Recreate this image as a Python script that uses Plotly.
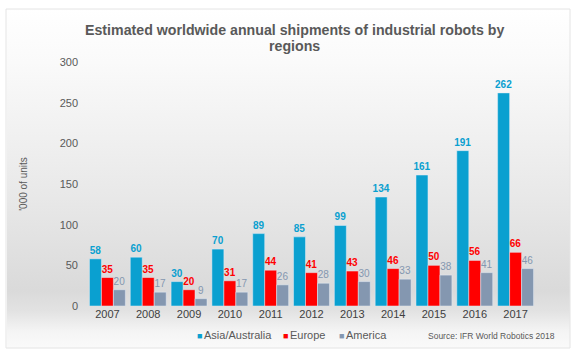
import base64
import plotly.graph_objects as go

years = ["2007", "2008", "2009", "2010", "2011", "2012", "2013", "2014", "2015", "2016", "2017"]
asia = [58, 60, 30, 70, 89, 85, 99, 134, 161, 191, 262]
europe = [35, 35, 20, 31, 44, 41, 43, 46, 50, 56, 66]
america = [20, 17, 9, 17, 26, 28, 30, 33, 38, 41, 46]
yticks = [0, 50, 100, 150, 200, 250, 300]
series_names = ["Asia/Australia", "Europe", "America"]

c_asia = "#0AA0D0"
c_eu = "#FF0000"
c_am = "#8497B0"
colors = [c_asia, c_eu, c_am]

# plot area in pixels: x 87..536, y 62..306
PW, PH = 449, 244
def px(x):
    return (x - 87) / PW
def py(y):
    return (306 - y) / PH

svg = (
    '<svg xmlns="http://www.w3.org/2000/svg" width="100" height="100" preserveAspectRatio="none">'
    '<defs><linearGradient id="g" x1="0" y1="0" x2="0" y2="1">'
    '<stop offset="0" stop-color="#FFFFFF"/>'
    '<stop offset="0.156" stop-color="#FAFAFA"/>'
    '<stop offset="0.56" stop-color="#E8E8E8"/>'
    '<stop offset="0.83" stop-color="#DADADA"/>'
    '<stop offset="0.89" stop-color="#E2E2E2"/>'
    '<stop offset="0.95" stop-color="#F4F4F4"/>'
    '<stop offset="1" stop-color="#FAFAFA"/>'
    '</linearGradient></defs>'
    '<rect width="100" height="100" fill="url(#g)"/></svg>'
)
src = "data:image/svg+xml;base64," + base64.b64encode(svg.encode()).decode()

fig = go.Figure()
for name, vals, col, bold in [(series_names[0], asia, c_asia, True),
                               (series_names[1], europe, c_eu, True),
                               (series_names[2], america, c_am, False)]:
    fig.add_trace(go.Bar(name=name, x=years, y=vals, marker_color=col,
                         text=vals,
                         texttemplate="<b>%{text}</b>" if bold else "%{text}",
                         textposition="outside", constraintext="none",
                         textfont=dict(color=col, size=10, family="Arial, Liberation Sans"),
                         cliponaxis=False, showlegend=False))

annotations = [
    dict(text="<b>Estimated worldwide annual shipments of industrial robots by</b>",
         xref="paper", yref="paper", x=px(294), y=py(30), xanchor="center", yanchor="middle",
         showarrow=False, font=dict(size=14.2, color="#595959")),
    dict(text="<b>regions</b>",
         xref="paper", yref="paper", x=px(294), y=py(46.5), xanchor="center", yanchor="middle",
         showarrow=False, font=dict(size=14.2, color="#595959")),
    dict(text="Source: IFR World Robotics 2018", xref="paper", yref="paper",
         x=px(557), y=py(336), xanchor="right", yanchor="middle",
         showarrow=False, font=dict(size=8.5, color="#595959")),
]
# legend (manual, compact)
leg_sq = [195, 281, 337]
leg_tx = [202, 288, 344]
for name, col, sx, tx in zip(series_names, colors, leg_sq, leg_tx):
    annotations.append(dict(text="■", xref="paper", yref="paper", x=px(sx), y=py(335.5),
                            xanchor="left", yanchor="middle", showarrow=False,
                            font=dict(size=9, color=col)))
    annotations.append(dict(text=name, xref="paper", yref="paper", x=px(tx), y=py(335),
                            xanchor="left", yanchor="middle", showarrow=False,
                            font=dict(size=11, color="#595959")))

fig.update_layout(
    width=580, height=354,
    margin=dict(l=87, r=44, t=62, b=48, autoexpand=False),
    paper_bgcolor="white",
    plot_bgcolor="rgba(0,0,0,0)",
    font=dict(family="Arial, Liberation Sans", color="#595959"),
    barmode="group", bargap=0.12, bargroupgap=0,
    showlegend=False,
    images=[dict(source=src, xref="paper", yref="paper", x=px(7), y=py(9),
                 sizex=563 / PW, sizey=339 / PH, sizing="stretch", layer="below",
                 xanchor="left", yanchor="top")],
    shapes=[dict(type="rect", xref="paper", yref="paper", x0=px(6), x1=px(570),
                 y0=py(348), y1=py(9), line=dict(color="#E4E4E4", width=1),
                 fillcolor="rgba(0,0,0,0)")],
    annotations=annotations,
)
fig.update_xaxes(showgrid=False, showline=False, ticks="", tickfont=dict(size=11, color="#404040"))
fig.update_yaxes(range=[0, 300], tickvals=yticks, showgrid=False, showline=False, zeroline=False,
                 tickfont=dict(size=11, color="#595959"), ticks="", ticklabelstandoff=8,
                 title=dict(text="'000 of units", font=dict(size=10, color="#595959"), standoff=30))

fig.write_html("out.html")
